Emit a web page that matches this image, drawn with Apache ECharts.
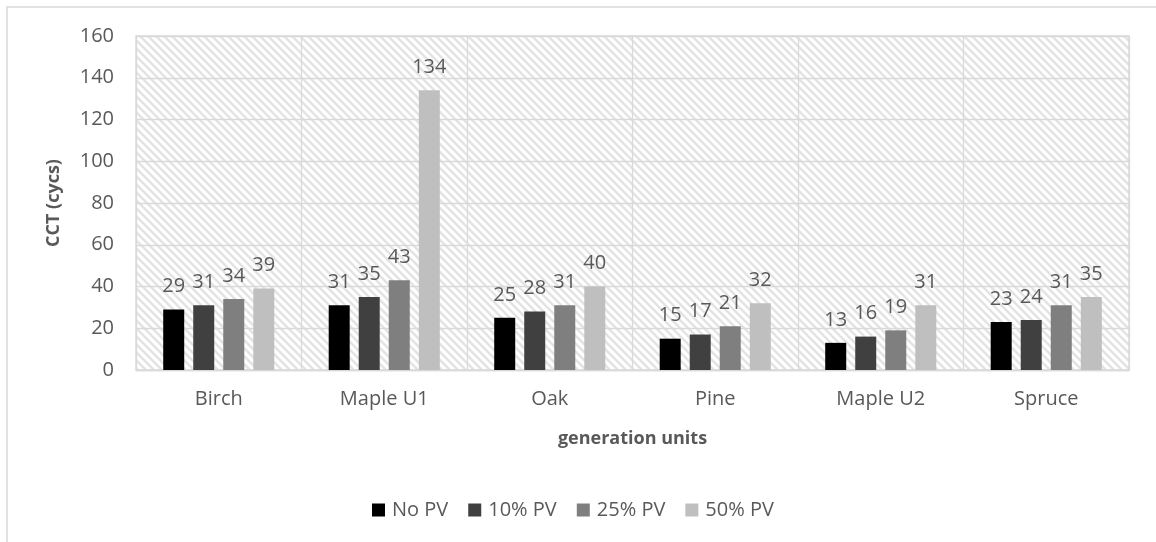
<!DOCTYPE html>
<html>
<head>
<meta charset="utf-8">
<script src="https://cdn.jsdelivr.net/npm/echarts@6/dist/echarts.min.js"></script>
<style>
  html, body { margin: 0; padding: 0; background: #ffffff; }
  #chart { width: 1156px; height: 542px; }
</style>
</head>
<body>
<div id="chart"></div>
<script>
// Generation units on the category axis
const categories = ['Birch', 'Maple U1', 'Oak', 'Pine', 'Maple U2', 'Spruce'];

// CCT in cycles for each PV penetration level
const seriesNames = ['No PV', '10% PV', '25% PV', '50% PV'];
const noPV   = [29, 31, 25, 15, 13, 23];
const pv10   = [31, 35, 28, 17, 16, 24];
const pv25   = [34, 43, 31, 21, 19, 31];
const pv50   = [39, 134, 40, 32, 31, 35];
const seriesValues = [noPV, pv10, pv25, pv50];
const seriesColors = ['#000000', '#404040', '#7f7f7f', '#bfbfbf'];

// Value-axis ticks
const yTicks = [0, 20, 40, 60, 80, 100, 120, 140, 160];

const FONT = '"Open Sans", "Noto Sans", sans-serif';
const TEXT = '#595959';

// Diagonal hatch tile for the plot background
function hatchTile() {
  const s = 8;
  const c = document.createElement('canvas');
  c.width = s; c.height = s;
  const g = c.getContext('2d');
  g.fillStyle = '#ffffff';
  g.fillRect(0, 0, s, s);
  g.strokeStyle = '#e3e3e3';
  g.lineWidth = 2.4;
  g.beginPath();
  g.moveTo(-2, -2); g.lineTo(s + 2, s + 2);
  g.moveTo(-2 - s, -2); g.lineTo(s + 2 - s, s + 2);
  g.moveTo(-2 + s, -2); g.lineTo(s + 2 + s, s + 2);
  g.stroke();
  return c;
}

const chart = echarts.init(document.getElementById('chart'), null, { renderer: 'canvas' });

const option = {
  animation: false,
  backgroundColor: '#ffffff',
  textStyle: { fontFamily: FONT },
  graphic: [{
    type: 'polyline',
    silent: true,
    shape: { points: [[7, 560], [7, 7], [1170, 7]] },
    style: { stroke: '#d9d9d9', lineWidth: 1.5, fill: null }
  }],
  grid: {
    left: 136, right: 27, top: 36, bottom: 172,
    show: true,
    borderColor: '#d9d9d9',
    borderWidth: 1.3,
    backgroundColor: { image: hatchTile(), repeat: 'repeat' }
  },
  legend: {
    data: seriesNames,
    left: 372,
    top: 500,
    padding: 0,
    icon: 'rect',
    itemWidth: 13,
    itemHeight: 13,
    itemGap: 20,
    textStyle: { color: TEXT, fontSize: 20, fontFamily: FONT, padding: [0, 0, 0, 2] }
  },
  xAxis: {
    type: 'category',
    data: categories,
    name: 'generation units',
    nameLocation: 'middle',
    nameGap: 60,
    nameTextStyle: { color: TEXT, fontSize: 18, fontWeight: 'bold', fontFamily: FONT },
    axisLine: { show: true, lineStyle: { color: '#d9d9d9', width: 1.3 } },
    axisTick: { show: false },
    axisLabel: { color: TEXT, fontSize: 20, fontFamily: FONT, margin: 19 },
    splitLine: { show: true, interval: 0, lineStyle: { color: '#d9d9d9', width: 1.3 } }
  },
  yAxis: {
    type: 'value',
    min: yTicks[0],
    max: yTicks[yTicks.length - 1],
    interval: yTicks[1] - yTicks[0],
    name: 'CCT (cycs)',
    nameLocation: 'middle',
    nameGap: 73,
    nameRotate: 90,
    nameTextStyle: { color: TEXT, fontSize: 18, fontWeight: 'bold', fontFamily: FONT },
    axisLine: { show: false },
    axisTick: { show: false },
    axisLabel: { color: TEXT, fontSize: 20, fontFamily: FONT, margin: 22 },
    splitLine: { show: true, lineStyle: { color: '#d9d9d9', width: 1.3 } }
  },
  series: seriesNames.map((name, i) => ({
    name,
    type: 'bar',
    data: seriesValues[i],
    barWidth: 21,
    barGap: '43%',
    itemStyle: { color: seriesColors[i] },
    label: {
      show: true,
      position: 'top',
      distance: 13,
      color: TEXT,
      fontSize: 20,
      fontFamily: FONT
    }
  }))
};

chart.setOption(option);
</script>
</body>
</html>
